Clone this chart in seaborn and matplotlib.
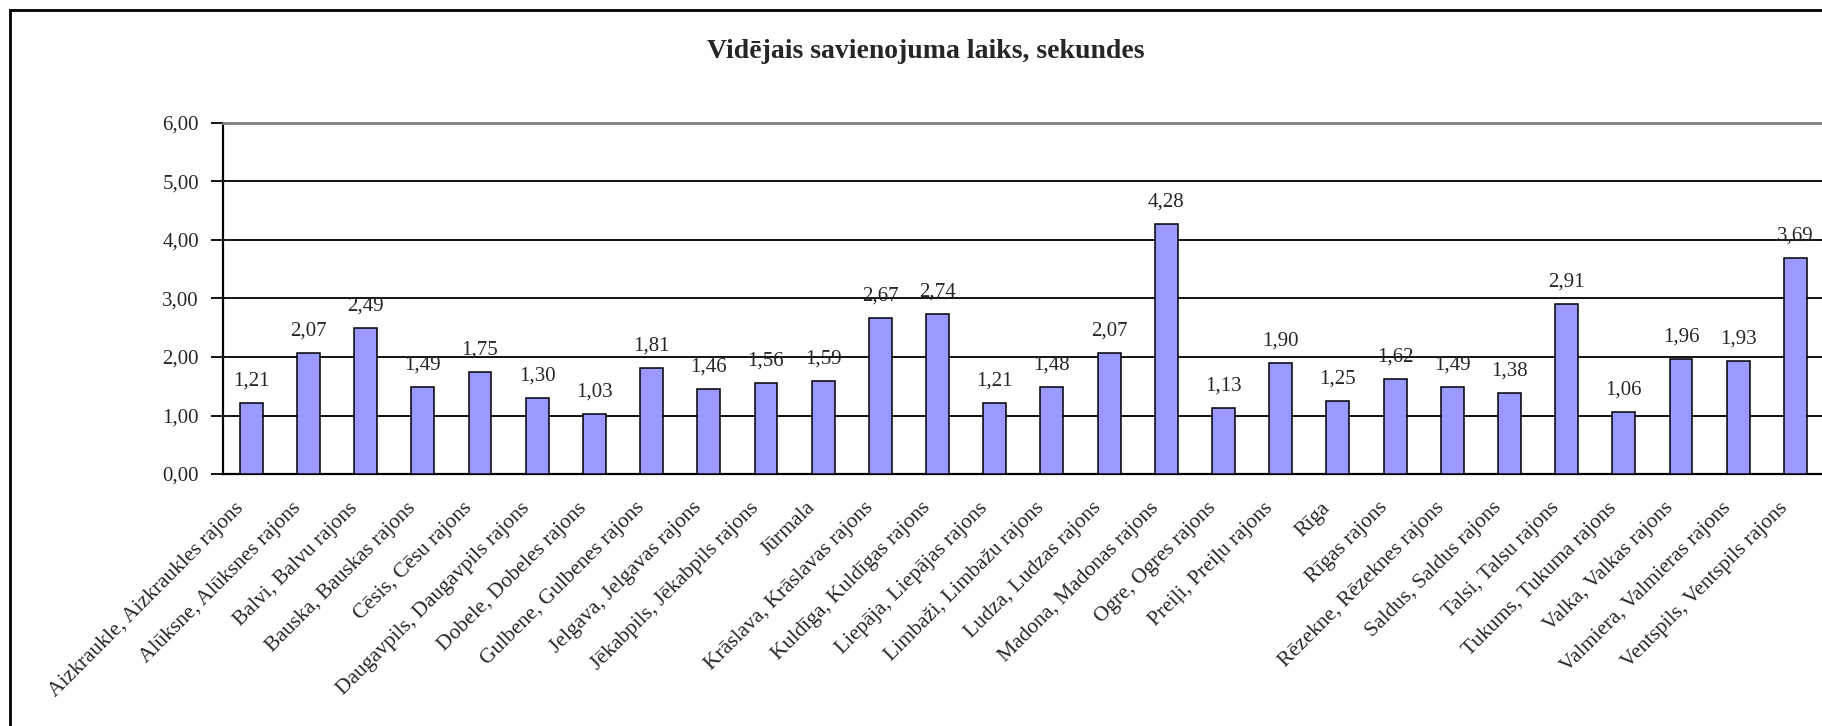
import numpy as np
import pandas as pd
import matplotlib
matplotlib.use("Agg")
import matplotlib.pyplot as plt
import seaborn as sns
from matplotlib.patches import Rectangle
from matplotlib.ticker import FuncFormatter, FixedLocator
from matplotlib.transforms import ScaledTranslation

# data
regions = [
    "Aizkraukle, Aizkraukles rajons", "Alūksne, Alūksnes rajons", "Balvi, Balvu rajons",
    "Bauska, Bauskas rajons", "Cēsis, Cēsu rajons", "Daugavpils, Daugavpils rajons",
    "Dobele, Dobeles rajons", "Gulbene, Gulbenes rajons", "Jelgava, Jelgavas rajons",
    "Jēkabpils, Jēkabpils rajons", "Jūrmala", "Krāslava, Krāslavas rajons",
    "Kuldīga, Kuldīgas rajons", "Liepāja, Liepājas rajons", "Limbaži, Limbažu rajons",
    "Ludza, Ludzas rajons", "Madona, Madonas rajons", "Ogre, Ogres rajons",
    "Preiļi, Preiļu rajons", "Rīga", "Rīgas rajons", "Rēzekne, Rēzeknes rajons",
    "Saldus, Saldus rajons", "Talsi, Talsu rajons", "Tukums, Tukuma rajons",
    "Valka, Valkas rajons", "Valmiera, Valmieras rajons", "Ventspils, Ventspils rajons",
]
seconds = [1.21, 2.07, 2.49, 1.49, 1.75, 1.30, 1.03, 1.81, 1.46, 1.56, 1.59, 2.67, 2.74, 1.21,
           1.48, 2.07, 4.28, 1.13, 1.90, 1.25, 1.62, 1.49, 1.38, 2.91, 1.06, 1.96, 1.93, 3.69]
title = "Vidējais savienojuma laiks, sekundes"

df = pd.DataFrame({"region": regions, "sec": seconds})

sns.set_style("white")
plt.rcParams["font.family"] = ["Liberation Serif", "DejaVu Serif"]

fig = plt.figure(figsize=(18.22, 7.26), dpi=100)
ax = fig.add_axes([0.1222, 0.3471, 0.8789, 0.4835])

sns.barplot(data=df, x="region", y="sec", color="#9999FF", saturation=1,
            edgecolor="black", linewidth=1.1, width=0.4, ax=ax, zorder=3)

lbls = [f"{v:.2f}".replace(".", ",") for v in seconds]
ax.bar_label(ax.containers[0], labels=lbls, padding=9, fontsize=15)

ax.set_ylim(0, 6)
ax.set_xlim(-0.5, len(regions) - 0.5)
ax.set_yticks(np.arange(0, 7, 1))
ax.yaxis.set_major_formatter(FuncFormatter(lambda v, p: f"{v:.2f}".replace(".", ",")))
ax.yaxis.grid(True, color="black", lw=1.3, zorder=0)
ax.set_axisbelow(True)

ax.set_xlabel("")
ax.set_ylabel("")
ax.set_xticks(range(len(regions)))
ax.set_xticklabels(regions, rotation=45, ha="right", rotation_mode="anchor", fontsize=15.5)
ax.tick_params(axis="x", which="major", length=0, pad=14)
shift = ScaledTranslation(-17 / 100, -5 / 100, fig.dpi_scale_trans)
for lab in ax.get_xticklabels():
    lab.set_transform(lab.get_transform() + shift)
ax.xaxis.set_minor_locator(FixedLocator(np.arange(-0.5, len(regions), 1)))
ax.tick_params(axis="x", which="minor", length=8, width=1.3, color="black", direction="out")
ax.tick_params(axis="y", length=9, width=1.3, color="black", direction="out", labelsize=15, pad=8, left=True)

for s in ["left", "bottom"]:
    ax.spines[s].set_color("black")
    ax.spines[s].set_linewidth(1.6)
for s in ["top", "right"]:
    ax.spines[s].set_color("#808080")
    ax.spines[s].set_linewidth(2)

fig.text(0.508, 0.929, title, ha="center", va="center", fontsize=20, fontweight="bold")

# outer chart frame (cut off at right/bottom like the original)
fig.patches.append(Rectangle((10 / 1822, -0.2), 1.3, 1.2 - 10 / 726, transform=fig.transFigure,
                             fill=False, edgecolor="black", lw=2))

fig.savefig("out.png", dpi=100)
